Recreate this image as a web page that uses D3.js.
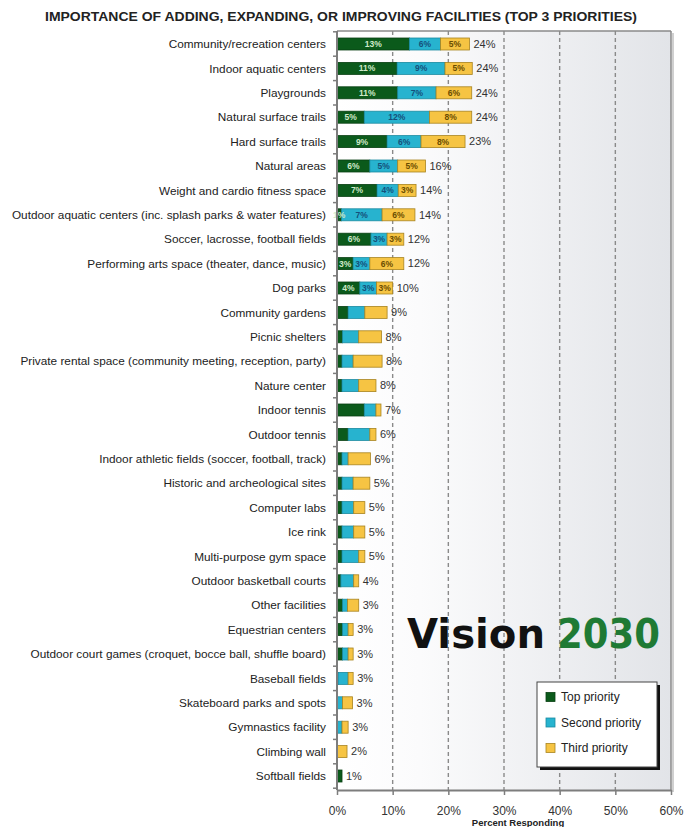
<!DOCTYPE html>
<html>
<head>
<meta charset="utf-8">
<script src="https://cdn.jsdelivr.net/npm/d3@7"></script>
<style>
  html, body { margin: 0; padding: 0; background: #fff; }
  svg { display: block; font-family: "Liberation Sans", Arial, sans-serif; }
</style>
</head>
<body>
<svg id="chart" width="686" height="827"></svg>
<script>
const categories = [
  "Community/recreation centers",
  "Indoor aquatic centers",
  "Playgrounds",
  "Natural surface trails",
  "Hard surface trails",
  "Natural areas",
  "Weight and cardio fitness space",
  "Outdoor aquatic centers (inc. splash parks & water features)",
  "Soccer, lacrosse, football fields",
  "Performing arts space (theater, dance, music)",
  "Dog parks",
  "Community gardens",
  "Picnic shelters",
  "Private rental space (community meeting, reception, party)",
  "Nature center",
  "Indoor tennis",
  "Outdoor tennis",
  "Indoor athletic fields (soccer, football, track)",
  "Historic and archeological sites",
  "Computer labs",
  "Ice rink",
  "Multi-purpose gym space",
  "Outdoor basketball courts",
  "Other facilities",
  "Equestrian centers",
  "Outdoor court games (croquet, bocce ball, shuffle board)",
  "Baseball fields",
  "Skateboard parks and spots",
  "Gymnastics facility",
  "Climbing wall",
  "Softball fields"
];
const topPriority    = [13, 10.8, 10.9, 4.9, 9, 5.9, 7.2, 0.8, 6.1, 2.9, 4.1, 2, 1, 0.9, 0.9, 4.9, 2, 0.9, 0.9, 0.9, 0.9, 0.9, 0.7, 1, 1, 1, 0.2, 0, 0, 0, 0.9];
const secondPriority = [5.6, 8.6, 6.9, 11.7, 6.1, 5, 3.8, 7.3, 2.9, 3, 3, 3, 2.9, 2, 3, 2.1, 3.9, 1.1, 2, 2.1, 2.1, 3, 2.3, 0.9, 1, 1, 1.8, 1, 0.9, 0, 0];
const thirdPriority  = [5.2, 4.9, 6.4, 7.6, 7.9, 5, 3.2, 5.9, 3, 6.1, 2.9, 4, 4.1, 5.2, 3.1, 0.9, 1.1, 4, 3, 2, 2, 1.1, 0.9, 2, 0.9, 0.9, 0.9, 1.8, 1.1, 1.8, 0];
const totalLabels    = ["24%","24%","24%","24%","23%","16%","14%","14%","12%","12%","10%","9%","8%","8%","8%","7%","6%","6%","5%","5%","5%","5%","4%","3%","3%","3%","3%","3%","3%","2%","1%"];
const labeledRows = 11; // segment labels shown for the top rows
const seriesNames = ["Top priority", "Second priority", "Third priority"];
const xTicks = [0, 10, 20, 30, 40, 50, 60];

const colors = ["#0b5a1b", "#27b3cf", "#f6c443"];
const strokes = ["#083f12", "#1b8aa1", "#a88420"];
const labelColors = ["#cfe9c9", "#15507a", "#6a4c00"];

const svg = d3.select("#chart");
const plotTop = 31, plotBottom = 790;
const x = d3.scaleLinear().domain([0, 60]).range([337, 671]);
const y = d3.scaleBand().domain(categories).range([31.8, 788.2]).paddingInner(0.5).paddingOuter(0.25);

// background gradient
const defs = svg.append("defs");
const grad = defs.append("linearGradient").attr("id", "bg").attr("x1", "0").attr("x2", "1").attr("y1", "0").attr("y2", "0");
grad.append("stop").attr("offset", "0").attr("stop-color", "#ffffff");
grad.append("stop").attr("offset", "0.25").attr("stop-color", "#fbfbfc");
grad.append("stop").attr("offset", "1").attr("stop-color", "#e2e4e8");

svg.append("rect").attr("x", x(0)).attr("y", plotTop).attr("width", x(60) - x(0)).attr("height", plotBottom - plotTop).attr("fill", "url(#bg)");

// title
svg.append("text").attr("x", 341).attr("y", 21).attr("text-anchor", "middle")
  .attr("font-size", 12.5).attr("font-weight", "bold").attr("fill", "#222")
  .attr("textLength", 592).attr("lengthAdjust", "spacingAndGlyphs")
  .text("IMPORTANCE OF ADDING, EXPANDING, OR IMPROVING FACILITIES (TOP 3 PRIORITIES)");

// gridlines
svg.append("g").selectAll("line").data(xTicks.filter(t => t > 0 && t < 60)).join("line")
  .attr("x1", d => x(d)).attr("x2", d => x(d)).attr("y1", plotTop).attr("y2", plotBottom)
  .attr("stroke", "#8a8a8a").attr("stroke-width", 1.4).attr("stroke-dasharray", "4,3");

// borders
svg.append("line").attr("x1", x(0)).attr("x2", x(60)).attr("y1", plotTop).attr("y2", plotTop).attr("stroke", "#8a8a8a").attr("stroke-width", 1.5);
svg.append("line").attr("x1", x(60)).attr("x2", x(60)).attr("y1", plotTop).attr("y2", plotBottom).attr("stroke", "#8a8a8a").attr("stroke-width", 1.5);
svg.append("line").attr("x1", x(60) + 2).attr("x2", x(60) + 2).attr("y1", plotTop + 2).attr("y2", plotBottom + 2).attr("stroke", "#d0d0d0").attr("stroke-width", 2);

// logo
svg.append("text").attr("x", 407).attr("y", 648).attr("font-family", "DejaVu Sans, sans-serif")
  .attr("font-weight", "bold").attr("font-size", 40).attr("fill", "#111")
  .attr("textLength", 138).attr("lengthAdjust", "spacingAndGlyphs").text("Vision");
svg.append("text").attr("x", 557).attr("y", 648).attr("font-family", "DejaVu Sans, sans-serif")
  .attr("font-weight", "bold").attr("font-size", 40).attr("fill", "#1f7a34")
  .attr("textLength", 103).attr("lengthAdjust", "spacingAndGlyphs").text("2030");

// stacked bars
const series = [topPriority, secondPriority, thirdPriority];
const rows = categories.map((c, i) => {
  let acc = 0;
  const segs = series.map((s, k) => { const seg = { k, x0: acc, x1: acc + s[i], v: s[i] }; acc += s[i]; return seg; });
  return { c, i, segs, end: acc };
});

const bh = 12;
const rowG = svg.append("g").selectAll("g").data(rows).join("g");
rowG.selectAll("rect").data(d => d.segs.filter(s => s.v > 0).map(s => ({ ...s, c: d.c }))).join("rect")
  .attr("x", s => x(s.x0)).attr("width", s => x(s.x1) - x(s.x0))
  .attr("y", s => y(s.c) + y.bandwidth() / 2 - bh / 2).attr("height", bh)
  .attr("fill", s => colors[s.k]).attr("stroke", s => strokes[s.k]).attr("stroke-width", 0.8);

// segment labels
rowG.filter(d => d.i < labeledRows).selectAll("text.seg").data(d => d.segs.map(s => ({ ...s, c: d.c }))).join("text")
  .attr("class", "seg")
  .attr("x", s => (x(s.x0) + x(s.x1)) / 2).attr("y", s => y(s.c) + y.bandwidth() / 2)
  .attr("dy", "0.35em").attr("text-anchor", "middle").attr("font-size", 8.5).attr("font-weight", "bold")
  .attr("fill", s => labelColors[s.k]).text(s => Math.round(s.v) + "%");

// total labels
rowG.append("text").attr("x", d => x(d.end) + 4).attr("y", d => y(d.c) + y.bandwidth() / 2)
  .attr("dy", "0.35em").attr("font-size", 11).attr("fill", "#333").text(d => totalLabels[d.i]);

// category labels
svg.append("g").selectAll("text").data(categories).join("text")
  .attr("x", 326).attr("y", d => y(d) + y.bandwidth() / 2).attr("dy", "0.35em")
  .attr("text-anchor", "end").attr("font-size", 11.8).attr("fill", "#222").text(d => d);

// left axis
svg.append("line").attr("x1", x(0)).attr("x2", x(0)).attr("y1", plotTop).attr("y2", plotBottom).attr("stroke", "#7d7d7d").attr("stroke-width", 2);
svg.append("g").selectAll("line").data(d3.range(categories.length + 1)).join("line")
  .attr("x1", x(0) - 4).attr("x2", x(0))
  .attr("y1", i => y(categories[0]) + y.bandwidth() / 2 - y.step() / 2 + i * y.step())
  .attr("y2", i => y(categories[0]) + y.bandwidth() / 2 - y.step() / 2 + i * y.step())
  .attr("stroke", "#7d7d7d").attr("stroke-width", 1.5);

// bottom axis
const xAxis = svg.append("g").attr("transform", `translate(0,${plotBottom})`)
  .call(d3.axisBottom(x).tickValues(xTicks).tickFormat(d => d + "%").tickSize(5).tickSizeOuter(0));
xAxis.select(".domain").attr("stroke", "#7d7d7d").attr("stroke-width", 2);
xAxis.selectAll(".tick line").attr("stroke", "#7d7d7d").attr("stroke-width", 1.5);
xAxis.selectAll(".tick text").attr("font-size", 12).attr("fill", "#333").attr("font-family", "Liberation Sans, Arial, sans-serif").attr("y", 16);

svg.append("text").attr("x", 518).attr("y", 825.5).attr("text-anchor", "middle")
  .attr("font-size", 9.5).attr("font-weight", "bold").attr("fill", "#222").text("Percent Responding");

// legend
const lg = svg.append("g");
lg.append("rect").attr("x", 540).attr("y", 685).attr("width", 120).attr("height", 85).attr("fill", "#111");
lg.append("rect").attr("x", 537).attr("y", 682).attr("width", 120).attr("height", 85).attr("fill", "#fff").attr("stroke", "#444").attr("stroke-width", 1);
const li = lg.selectAll("g.item").data(seriesNames).join("g").attr("class", "item")
  .attr("transform", (d, i) => `translate(546,${697 + i * 25.5})`);
li.append("rect").attr("x", 0).attr("y", -4.5).attr("width", 9).attr("height", 9)
  .attr("fill", (d, i) => colors[i]).attr("stroke", (d, i) => strokes[i]).attr("stroke-width", 0.8);
li.append("text").attr("x", 15).attr("dy", "0.35em").attr("font-size", 12).attr("fill", "#222").text(d => d);
</script>
</body>
</html>
